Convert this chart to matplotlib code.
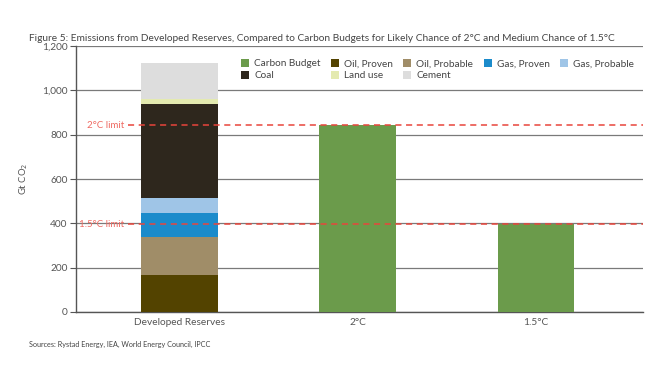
import numpy as np
import matplotlib.pyplot as plt

plt.rcParams['font.family'] = ['Lato', 'DejaVu Sans']

# Data
categories = ['Developed Reserves', '2°C', '1.5°C']
reserve_labels = ['Oil, Proven', 'Oil, Probable', 'Gas, Proven', 'Gas, Probable', 'Coal', 'Land use', 'Cement']
reserve_values = [168, 169, 108, 69, 423, 25, 162]
reserve_colors = ['#534300', '#a08d68', '#1b8bcb', '#9fc5e7', '#2e271d', '#e4eab0', '#dddddd']
budget_values = [843, 395]
budget_color = '#6b9b4b'
limit_values = [843, 395]
limit_labels = ['2°C limit', '1.5°C limit']

fig = plt.figure(figsize=(6.65, 3.72), dpi=100)
ax = fig.add_axes([0.1143, 0.1613, 0.8527, 0.7147])

x = np.arange(len(categories))
w = 0.43

# Stacked bar for developed reserves
handles = {}
bottom = 0
for lab, val, col in zip(reserve_labels, reserve_values, reserve_colors):
    handles[lab] = ax.bar(x[0], val, w, bottom=bottom, color=col, zorder=3, label=lab)
    bottom += val

# Carbon budget bars
handles['Carbon Budget'] = ax.bar(x[1:], budget_values, w, color=budget_color, zorder=3, label='Carbon Budget')

# Limit lines
for val, lab in zip(limit_values, limit_labels):
    ax.axhline(val, xmin=0.092, xmax=1, color='#e8453c', lw=1.1, ls=(0, (4, 3)), zorder=4)
    ax.text(-0.31, val, lab, color='#ef6a62', fontsize=7, ha='right', va='center', zorder=5)

ax.set_xlim(-0.58, 2.6)
ax.set_ylim(0, 1200)
ax.set_yticks(range(0, 1201, 200))
ax.set_yticklabels([f'{v:,}' for v in range(0, 1201, 200)])
ax.set_xticks(x)
ax.set_xticklabels(categories)
ax.grid(axis='y', color='#7a7a7a', lw=0.9, zorder=0)
ax.tick_params(axis='y', length=4, width=0.8, color='#555555', labelsize=7.3, labelcolor='#555555', pad=2)
ax.tick_params(axis='x', length=0, labelsize=7.3, labelcolor='#555555', pad=4)

for s in ['top', 'right']:
    ax.spines[s].set_visible(False)
for s in ['left', 'bottom']:
    ax.spines[s].set_color('#555555')
    ax.spines[s].set_linewidth(1.0)

ax.set_ylabel('Gt CO$_2$', fontsize=6.8, color='#555555', labelpad=9)

order = ['Carbon Budget', 'Coal', 'Oil, Proven', 'Land use', 'Oil, Probable', 'Cement', 'Gas, Proven', 'Gas, Probable']
leg = ax.legend([handles[k] for k in order], order, ncol=5, loc='upper right',
                bbox_to_anchor=(1.0, 0.985), frameon=False, fontsize=7.2,
                handlelength=0.8, handleheight=0.8, handletextpad=0.5,
                columnspacing=1.05, labelspacing=0.25, labelcolor='#444444')
leg.set_zorder(6)

fig.text(0.044, 0.897, 'Figure 5: Emissions from Developed Reserves, Compared to Carbon Budgets for Likely Chance of 2°C and Medium Chance of 1.5°C',
         fontsize=7.3, color='#444444', ha='left', va='center')
fig.text(0.044, 0.073, 'Sources: Rystad Energy, IEA, World Energy Council, IPCC',
         fontsize=5.2, color='#444444', ha='left', va='center')

fig.savefig('out.png', dpi=100)
